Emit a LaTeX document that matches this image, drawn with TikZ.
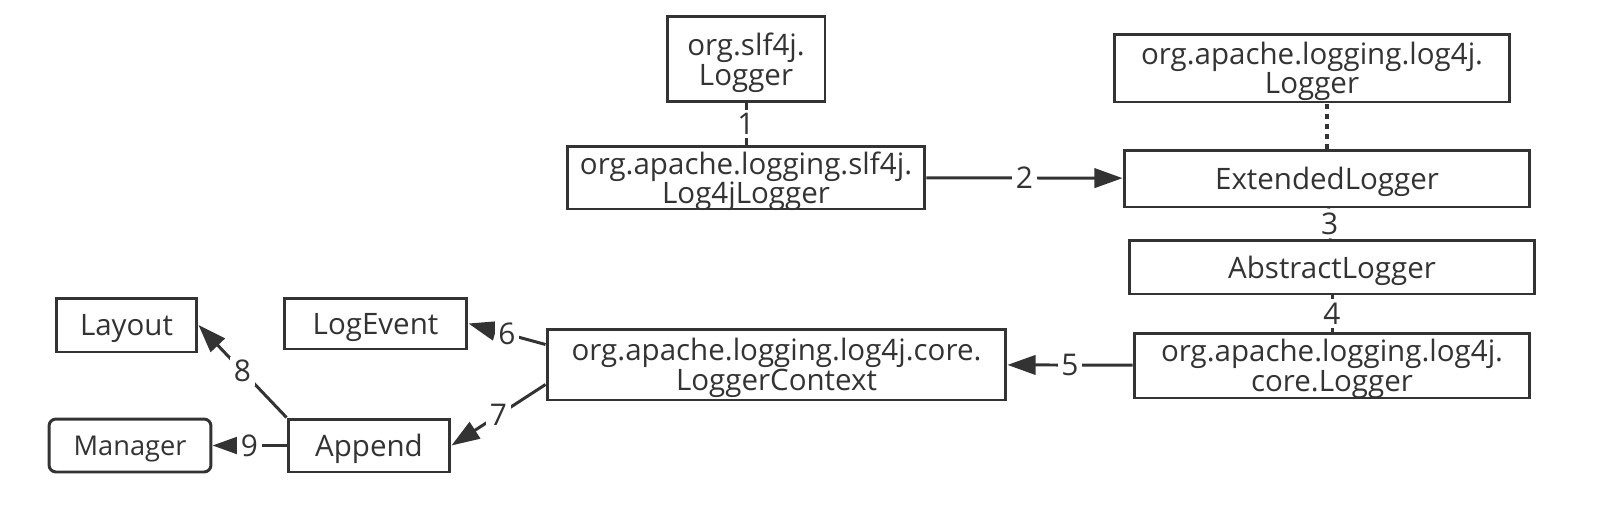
\documentclass[tikz,border=0pt]{standalone}
\usepackage{fontspec}
\setmainfont{Open Sans}
\usetikzlibrary{arrows.meta}
\definecolor{tinta}{HTML}{333333}
\begin{document}
\begin{tikzpicture}[x=0.02cm, y=-0.02cm,
		caja/.style={draw=tinta, line width=1.7pt, text=tinta, align=center, inner sep=0pt, text depth=0pt, font=\fontsize{16.8}{16.8}\selectfont},
		etiq/.style={fill=white, text=tinta, inner sep=2pt, font=\fontsize{17}{17}\selectfont},
		enlace/.style={draw=tinta, line width=1.7pt},
		flecha/.style={enlace, -{Triangle[length=16pt,width=11pt]}}]
	\useasboundingbox (0,0) rectangle (1602,524);
	
	% Fachada slf4j
	\node[caja, minimum width=3.16cm, minimum height=1.72cm] (slflogger) at (746,59) {org.slf4j.\\Logger};
	\node[caja, minimum width=7.16cm, minimum height=1.26cm] (log4jlogger) at (746,177.5) {org.apache.logging.slf4j.\\Log4jLogger};
	
	% API de log4j
	\node[caja, minimum width=7.92cm, minimum height=1.36cm] (apilogger) at (1312,68) {org.apache.logging.log4j.\\Logger};
	\node[caja, minimum width=8.12cm, minimum height=1.14cm] (extlogger) at (1327,178.5) {ExtendedLogger};
	\node[caja, minimum width=8.12cm, minimum height=1.08cm] (abslogger) at (1332,267) {AbstractLogger};
	\node[caja, minimum width=7.92cm, minimum height=1.30cm] (corelogger) at (1332,365.5) {org.apache.logging.log4j.\\core.Logger};
	
	% Nucleo
	\node[caja, minimum width=9.18cm, minimum height=1.42cm] (loggerctx) at (776.5,364.5) {org.apache.logging.log4j.core.\\LoggerContext};
	\node[caja, minimum width=3.66cm, minimum height=1.02cm] (logevent) at (375.5,323.5) {LogEvent};
	\node[caja, minimum width=2.82cm, minimum height=1.08cm] (layout) at (126.5,325) {Layout};
	\node[caja, minimum width=3.24cm, minimum height=1.06cm] (append) at (369,445.5) {Append};
	\node[caja, rounded corners=4pt, minimum width=3.24cm, minimum height=1.06cm, font=\fontsize{15.5}{15.5}\selectfont] (manager) at (130,445.5) {Manager};
	
	% Conexiones
	\draw[enlace] (slflogger) -- (log4jlogger) node[etiq, midway] {1};
	\draw[flecha] (log4jlogger) -- (extlogger) node[etiq, midway] {2};
	\draw[enlace, line width=2.4pt, dash pattern=on 2.8pt off 2.8pt] (extlogger.north) -- (extlogger.north |- apilogger.south);
	\draw[enlace] (extlogger) -- (abslogger) node[etiq, midway] {3};
	\draw[enlace] (abslogger) -- (corelogger) node[etiq, midway] {4};
	\draw[flecha] (corelogger) -- (loggerctx) node[etiq, midway] {5};
	\draw[flecha] ([yshift=0.4cm]loggerctx.west) -- (logevent.east) node[etiq, midway] {6};
	\draw[flecha] ([yshift=-0.4cm]loggerctx.west) -- (append.east) node[etiq, midway] {7};
	\draw[flecha] (append.north west) -- (layout.east) node[etiq, midway] {8};
	\draw[flecha] (append) -- (manager) node[etiq, midway] {9};
\end{tikzpicture}
\end{document}
